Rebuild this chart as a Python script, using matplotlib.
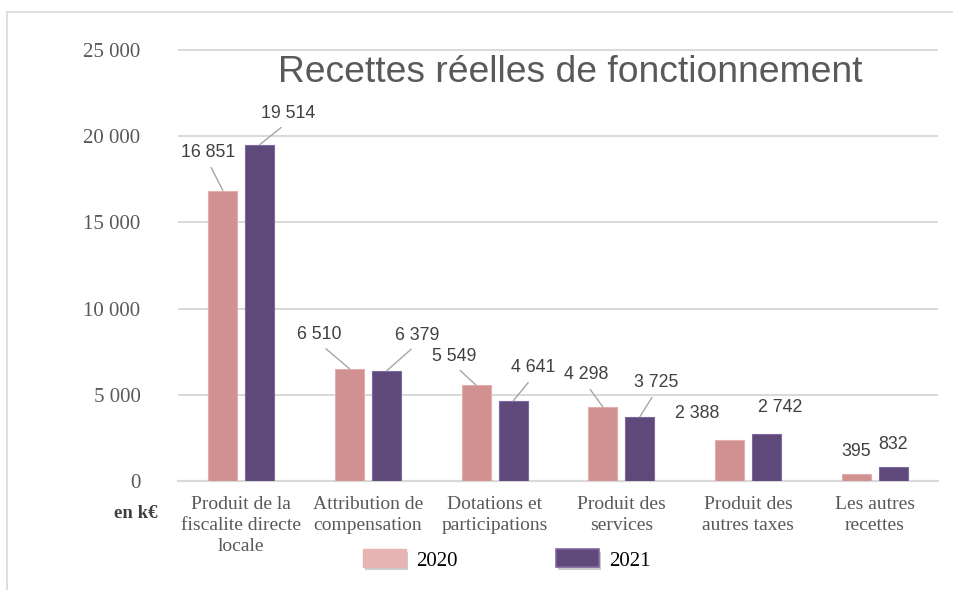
import matplotlib.pyplot as plt
import matplotlib.patheffects as pe
from matplotlib.patches import Patch, Rectangle
import numpy as np

# Données (en k€)
categories = ['Produit de la\nfiscalite directe\nlocale', 'Attribution de\ncompensation',
              'Dotations et\nparticipations', 'Produit des\nservices',
              'Produit des\nautres taxes', 'Les autres\nrecettes']
valeurs_2020 = [16851, 6510, 5549, 4298, 2388, 395]
valeurs_2021 = [19514, 6379, 4641, 3725, 2742, 832]
annees = ['2020', '2021']

# Position des étiquettes (décalage en pixels par rapport au haut de la barre) et traits de rappel
offsets_2020 = [(-15, 38), (-30, 34), (-22, 29), (-17, 32), (-32, 26), (0, 23)]
offsets_2021 = [(28, 31), (31, 36), (20, 33), (16, 34), (14, 26), (0, 22)]
traits = [True, True, True, True, False, False]

rose = '#D19191'
violet = '#5F497A'
gris = '#595959'

fig = plt.figure(figsize=(9.54, 5.90), dpi=100)
ax = fig.add_axes((178/954, 1-481/590, 760/954, 439.6/590))

x = np.arange(len(categories))
w = 0.23
d = 0.146
ax.bar(x - d, valeurs_2020, w, color=rose, edgecolor='#E2AEAE', linewidth=0.8, zorder=3)
ax.bar(x + d, valeurs_2021, w, color=violet, edgecolor='#7E68A0', linewidth=0.8, zorder=3)

ax.set_xlim(-0.5, len(categories) - 0.5)
ax.set_ylim(0, 25500)
ax.set_yticks(range(0, 25001, 5000))
ax.set_yticklabels([f'{v:,}'.replace(',', ' ') for v in range(0, 25001, 5000)])
ax.yaxis.grid(True, color='#D9D9D9', linewidth=1.4, zorder=0)
ax.set_axisbelow(True)
for s in ['top', 'right', 'left']:
    ax.spines[s].set_visible(False)
ax.spines['bottom'].set_color('#D9D9D9')
ax.spines['bottom'].set_linewidth(1.6)
ax.tick_params(axis='y', length=0, pad=27, labelsize=15, labelcolor=gris)
ax.tick_params(axis='x', length=0, pad=11, labelsize=14, labelcolor=gris)
ax.set_xticks(x)
ax.set_xticklabels(categories, linespacing=1.3)
for t in ax.get_xticklabels() + ax.get_yticklabels():
    t.set_family('Liberation Serif')

# Étiquettes de données
def etiquettes(xs, vals, offs):
    for xi, v, (dx, dy), tr in zip(xs, vals, offs, traits):
        txt = f'{v:,}'.replace(',', ' ')
        ap = None
        if tr:
            ap = dict(arrowstyle='-', color='#A6A6A6', lw=1.0, shrinkA=3, shrinkB=0,
                      relpos=(0.5, 0))
        ax.annotate(txt, (xi, v), xytext=(dx, dy), textcoords='offset pixels',
                    ha='center', va='center', fontsize=12.8, color='#404040',
                    family='Liberation Sans', arrowprops=ap, zorder=4)

etiquettes(x - d, valeurs_2020, offsets_2020)
etiquettes(x + d, valeurs_2021, offsets_2021)

# Titre
fig.text(570/954, 1-73/590, 'Recettes réelles de fonctionnement', ha='center', va='center',
         fontsize=26.8, color=gris, family='Liberation Sans')

# Unité
fig.text(136/954, 1-514/590, 'en k€', ha='center', va='center', fontsize=13.5,
         fontweight='bold', color='#404040', family='Liberation Serif')

# Légende
handles = [Patch(facecolor='#E6B4B4', edgecolor='#E6B4B4'),
           Patch(facecolor=violet, edgecolor='#8064A2', linewidth=1.2)]
leg = fig.legend(handles, annees, loc='center', bbox_to_anchor=(507/954, 1-560/590), ncol=2,
                 frameon=False, handlelength=2.07, handleheight=0.95, handletextpad=0.5,
                 columnspacing=4.7, prop={'family': 'Liberation Serif', 'size': 15})
for h in leg.legend_handles:
    h.set_path_effects([pe.SimplePatchShadow(offset=(1.5, -2), shadow_rgbFace='#909090', alpha=0.45),
                        pe.Normal()])

# Cadre extérieur
fig.add_artist(Rectangle((7/954, -0.1), 1.2, 1.1 - 12/590, transform=fig.transFigure,
                         fill=False, edgecolor='#D9D9D9', linewidth=1.2))

plt.savefig('out.png', dpi=100)
